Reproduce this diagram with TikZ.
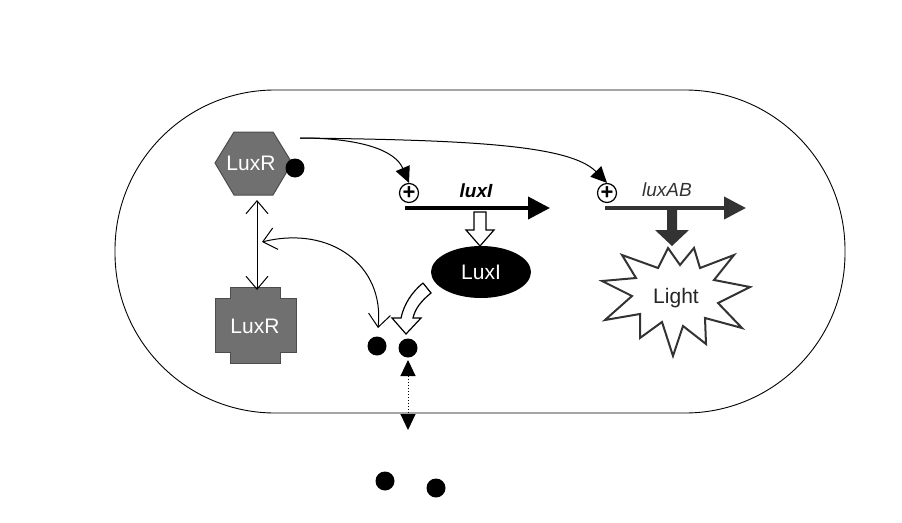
\documentclass[tikz,border=0pt]{standalone}
\usepackage{fontspec}
\setmainfont{Liberation Sans}
\usetikzlibrary{arrows.meta,shapes.geometric}
\begin{document}
\begin{tikzpicture}[x=1pt,y=-1pt,
  mol/.style={circle,fill=black,minimum size=19pt,inner sep=0pt},
  ln/.style={line width=1pt},
  barb/.tip={Straight Barb[length=13pt,width=22pt,line width=1pt]},
  tri/.tip={Triangle[length=16pt,width=15pt]},
  plus/.style={circle,draw,line width=1.2pt,minimum size=19pt,inner sep=0pt,font=\bfseries\fontsize{22}{22}\selectfont}]
\useasboundingbox (0,0) rectangle (902,522);
\draw[line width=0.9pt] (115,90) [rounded corners=160pt] rectangle (845,413);
% proteins
\filldraw[fill=gray!75!black!90,draw=black!70,line width=1pt] (215,163) -- (234,132) -- (273,132) -- (292,163) -- (273,195) -- (234,195) -- cycle;
\node[text=white,font=\fontsize{21}{23}\selectfont] (hex) at (251,163) {LuxR};
\node[mol,minimum size=19pt] (hdot) at (295,168) {};
\filldraw[fill=gray!75!black!90,draw=black!70,line width=1pt]
  (215,298) -- (230,298) -- (230,287) -- (280,287) -- (280,298) -- (296,298) -- (296,352) -- (280,352) -- (280,363) -- (230,363) -- (230,352) -- (215,352) -- cycle;
\node[text=white,font=\fontsize{21}{23}\selectfont] (cross) at (255,326) {LuxR};
\coordinate (v1) at (257,200); \coordinate (v2) at (257,290); \coordinate (vm) at (262,242);
\draw[ln,barb-barb] (v1) -- (v2);
% molecules
\node[mol] (m1) at (377,346) {};
\node[mol] (m2) at (408,348) {};
\node[mol] (m3) at (385,481) {};
\node[mol] (m4) at (436,488) {};
\coordinate (da) at (408,360); \coordinate (db) at (408,430);
\draw[ln,dotted,tri-tri] (da) -- (db);
\coordinate (ce) at (378,328);
\draw[ln,barb-barb] (vm) .. controls (330,225) and (385,265) .. (ce);
% luxI gene
\coordinate (g1) at (405,208); \coordinate (g2) at (550,208);
\draw[line width=4pt,-{Triangle[length=22pt,width=22pt]}] (g1) -- (g2);
\node[font=\bfseries\itshape\fontsize{19}{21}\selectfont] (luxI) at (476,191) {luxI};
\node[plus] (p1) at (409,193) {+};
\node[ellipse,fill=black,minimum width=100pt,minimum height=52pt,text=white,font=\fontsize{21}{23}\selectfont] (LuxI) at (481,272) {LuxI};
\draw[line width=1.2pt,fill=white] (474,212) -- (486,212) -- (486,230) -- (494,230) -- (480,246) -- (466,230) -- (474,230) -- cycle;
\draw[line width=1.2pt,fill=white] (423,283) -- (431,293) .. controls (421,301) and (415,309) .. (413,318) -- (421,318) -- (406,334) -- (392,318) -- (401,318) .. controls (404,304) and (412,292) .. (423,283);
% luxAB gene
\coordinate (h1) at (605,208); \coordinate (h2) at (746,208);
\draw[gray!40!black,line width=4pt,-{Triangle[length=22pt,width=22pt]}] (h1) -- (h2);
\node[text=gray!40!black,font=\itshape\fontsize{19}{21}\selectfont] (luxAB) at (667,190) {luxAB};
\node[plus] (p2) at (607,193) {+};
\fill[gray!40!black] (667,210) -- (677,210) -- (677,230) -- (689,230) -- (672,246) -- (655,230) -- (667,230) -- cycle;
% starburst
\draw[gray!40!black,line width=2pt,fill=white]
  plot[smooth cycle, tension=0] coordinates {
   (750,287) (714,280) (734,255) (700,268) (694,248) (680,265) (668,248) (658,268) (622,255) (636,278) (602,281) (632,296) (605,320)
   (640,314) (640,338) (662,322) (673,356) (683,326) (706,344) (705,318) (742,328) (718,303)};
\node[text=gray!30!black,font=\fontsize{21}{23}\selectfont] (light) at (676,298) {Light};
% regulation arrows
\draw[ln,-tri] (300,138) .. controls (360,138) and (395,150) .. (p1.north);
\draw[ln,-tri] (300,138) .. controls (470,140) and (570,145) .. (p2.north);
\end{tikzpicture}
\end{document}
